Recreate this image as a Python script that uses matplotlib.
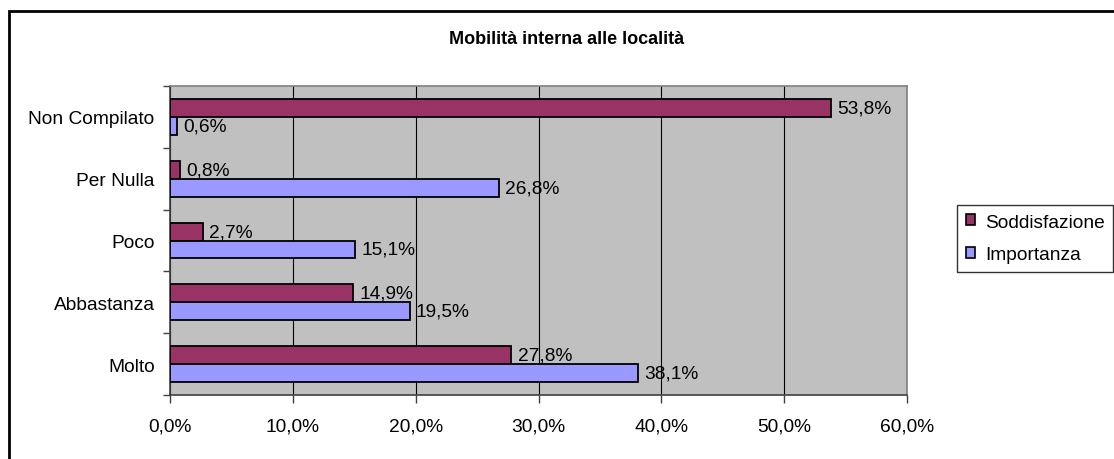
import matplotlib
matplotlib.use("Agg")
import matplotlib.pyplot as plt
from matplotlib.patches import Rectangle, Patch
from matplotlib.ticker import MultipleLocator, FuncFormatter
import numpy as np

plt.rcParams['font.family'] = ['Liberation Sans', 'DejaVu Sans']

categories = ['Molto', 'Abbastanza', 'Poco', 'Per Nulla', 'Non Compilato']
soddisfazione = [27.8, 14.9, 2.7, 0.8, 53.8]
importanza = [38.1, 19.5, 15.1, 26.8, 0.6]
series_names = ['Soddisfazione', 'Importanza']
colors = ['#993366', '#9999FF']

fig = plt.figure(figsize=(11.14, 4.6), dpi=100)
ax = fig.add_axes([170 / 1114, 1 - 396 / 460, 737 / 1114, 309 / 460])
ax.set_facecolor('#C0C0C0')

y = np.arange(len(categories))
h = 0.29
ax.barh(y + h / 2, soddisfazione, height=h, color=colors[0], edgecolor='black', linewidth=1.3, zorder=3)
ax.barh(y - h / 2, importanza, height=h, color=colors[1], edgecolor='black', linewidth=1.3, zorder=3)

fs = 13.8
for i in range(len(categories)):
    ax.annotate(f"{soddisfazione[i]:.1f}%".replace('.', ','), (soddisfazione[i], y[i] + h / 2),
                xytext=(4.5, 0), textcoords='offset points', va='center', ha='left', fontsize=fs, zorder=4)
    ax.annotate(f"{importanza[i]:.1f}%".replace('.', ','), (importanza[i], y[i] - h / 2),
                xytext=(4.5, 0), textcoords='offset points', va='center', ha='left', fontsize=fs, zorder=4)

ax.set_xlim(0, 60)
ax.set_ylim(-0.5, len(categories) - 0.5)
ax.xaxis.set_major_locator(MultipleLocator(10))
ax.xaxis.set_major_formatter(FuncFormatter(lambda v, p: f"{v:.1f}%".replace('.', ',')))
ax.grid(axis='x', color='black', linewidth=0.8, zorder=1)
ax.set_yticks(y)
ax.set_yticklabels(categories)
ax.set_yticks(np.arange(-0.5, len(categories), 1), minor=True)
ax.tick_params(axis='y', which='major', length=0, pad=11, labelsize=fs)
ax.tick_params(axis='y', which='minor', length=5, width=1, color='#404040')
ax.tick_params(axis='x', length=6, width=1, color='#404040', pad=10, labelsize=fs)

for s in ['top', 'right']:
    ax.spines[s].set_color('#808080')
    ax.spines[s].set_linewidth(1.2)
for s in ['left', 'bottom']:
    ax.spines[s].set_color('#404040')
    ax.spines[s].set_linewidth(1.2)

fig.text(567 / 1114, 1 - 40 / 460, 'Mobilità interna alle località', ha='center', va='center',
         fontsize=13, fontweight='bold')

handles = [Patch(facecolor=c, edgecolor='black', linewidth=1.2) for c in colors]
leg = fig.legend(handles, series_names, loc='upper left', bbox_to_anchor=(957 / 1114, 1 - 206 / 460),
                 fontsize=fs, frameon=True, fancybox=False, borderaxespad=0, borderpad=0.45,
                 handlelength=0.5, handleheight=0.5, handletextpad=0.5, labelspacing=0.8)
leg.get_frame().set_edgecolor('black')
leg.get_frame().set_linewidth(1.0)

# outer chart frame (cropped on right and bottom)
fig.add_artist(Rectangle((9 / 1114, -0.1), 1.2, 1.1 - 12 / 460, transform=fig.transFigure,
                         fill=False, edgecolor='black', linewidth=2))

fig.savefig('out.png', dpi=100)
